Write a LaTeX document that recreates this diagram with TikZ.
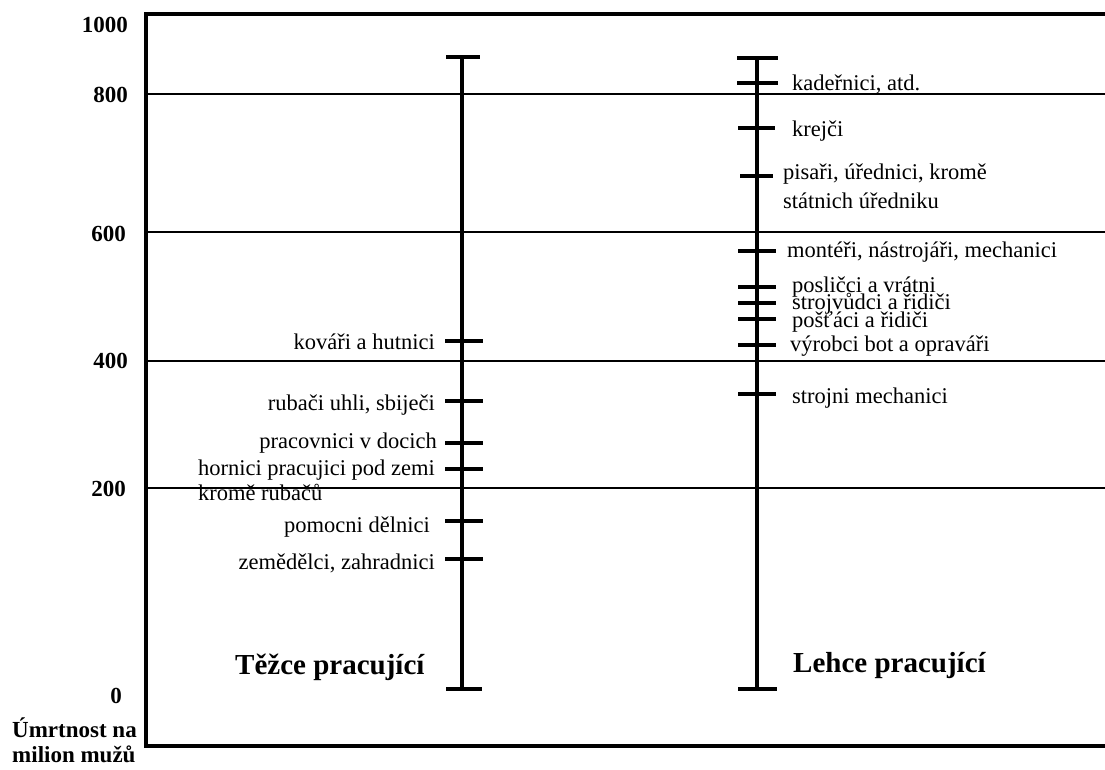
\documentclass[tikz,border=0pt]{standalone}
\usepackage{fontspec}
\newfontfamily\chartfont{Liberation Serif}
\usepackage{tikz}

\begin{document}
\begin{tikzpicture}[x=1pt,y=-1pt,
	frame/.style={draw=black, line width=4pt},
	gridline/.style={draw=black, line width=1.3pt},
	bar/.style={draw=black, line width=4pt},
	lbl/.style={black, inner sep=0pt, font=\chartfont\fontsize{22.5}{24}\selectfont},
	axlbl/.style={black, inner sep=0pt, font=\chartfont\fontsize{23}{25}\selectfont\bfseries},
	grplbl/.style={black, inner sep=0pt, font=\chartfont\fontsize{29}{31}\selectfont\bfseries}]
\useasboundingbox (0,0) rectangle (1105,769);
	% frame and grid
	\draw[frame] (146,14) rectangle (1110,746);
	\foreach \y in {94,232,361,488}
		\draw[gridline] (146,\y) -- (1105,\y);
	% axis labels
	\node[axlbl, anchor=base east] (ax1000) at (128,32) {1000};
	\node[axlbl, anchor=base east] (ax800) at (128,102) {800};
	\node[axlbl, anchor=base east] (ax600) at (126,241) {600};
	\node[axlbl, anchor=base east] (ax400) at (128,368) {400};
	\node[axlbl, anchor=base east] (ax200) at (126,496) {200};
	\node[axlbl, anchor=base east] (ax0) at (122,703) {0};
	\node[axlbl, anchor=base west] (axname) at (12,737) {Úmrtnost na};
	\node[axlbl, anchor=base west] (axname2) at (12,762) {milion mužů};
	% heavy work
	\coordinate (htop) at (462,57);
	\coordinate (hbot) at (462,689);
	\draw[bar] (htop) -- (hbot);
	\draw[bar] ([xshift=-16pt]htop) -- ([xshift=18pt]htop);
	\draw[bar] ([xshift=-16pt]hbot) -- ([xshift=20pt]hbot);
	\foreach \y in {341,401,443,469,521,559}
		\draw[bar] (445,\y) -- (483,\y);
	\node[lbl, anchor=base east] (kovari) at (435,349) {kováři a hutnici};
	\node[lbl, anchor=base east] (rubaci) at (435,410) {rubači uhli, sbiječi};
	\node[lbl, anchor=base east] (doky) at (437,448) {pracovnici v docich};
	\node[lbl, anchor=base east] (hornici) at (435,475) {hornici pracujici pod zemi};
	\node[lbl, anchor=base west] (hornici2) at ([yshift=-25pt]hornici.base west) {kromě rubačů};
	\node[lbl, anchor=base east] (pomocni) at (430,532) {pomocni dělnici};
	\node[lbl, anchor=base east] (zemedelci) at (435,569) {zemědělci, zahradnici};
	\node[grplbl, anchor=base west] (tezce) at (235,674) {Těžce pracující};
	% light work
	\coordinate (ltop) at (757,58);
	\coordinate (lbot) at (757,689);
	\draw[bar] (ltop) -- (lbot);
	\draw[bar] ([xshift=-20pt]ltop) -- ([xshift=21pt]ltop);
	\draw[bar] ([xshift=-19pt]lbot) -- ([xshift=20pt]lbot);
	\draw[bar] (737,83) -- (778,83);
	\draw[bar] (738,128) -- (775,128);
	\draw[bar] (740,176) -- (773,176);
	\foreach \y in {251,287,303,319,345,394}
		\draw[bar] (738,\y) -- (776,\y);
	\node[lbl, anchor=base west] (kadernici) at (792,90) {kadeřnici, atd.};
	\node[lbl, anchor=base west] (krejci) at (792,136) {krejči};
	\node[lbl, anchor=base west] (pisari) at (783,179) {pisaři, úřednici, kromě};
	\node[lbl, anchor=base west] (pisari2) at ([yshift=-29pt]pisari.base west) {státnich úředniku};
	\node[lbl, anchor=base west] (monteri) at (787,257) {montéři, nástrojáři, mechanici};
	\node[lbl, anchor=base west] (poslicci) at (792,292) {posličci a vrátni};
	\node[lbl, anchor=base west] (strojvudci) at (792,309) {strojvůdci a řidiči};
	\node[lbl, anchor=base west] (postaci) at (792,327) {pošťáci a řidiči};
	\node[lbl, anchor=base west] (vyrobci) at (790,351) {výrobci bot a opraváři};
	\node[lbl, anchor=base west] (strojni) at (792,403) {strojni mechanici};
	\node[grplbl, anchor=base west] (lehce) at (793,672) {Lehce pracující};
\end{tikzpicture}
\end{document}
